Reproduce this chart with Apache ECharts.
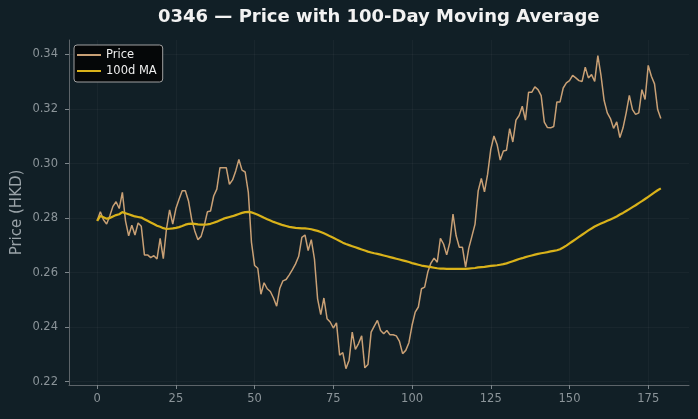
<!DOCTYPE html>
<html>
<head>
<meta charset="utf-8">
<title>0346 — Price with 100-Day Moving Average</title>
<script src="https://cdn.jsdelivr.net/npm/echarts@6.0.0/dist/echarts.min.js"></script>
<style>
    html, body { margin: 0; padding: 0; background: #111f26; }
    #main { width: 698px; height: 419px; }
</style>
</head>
<body>
<div id="main"></div>
<script>
// closing prices, one per trading day (index 0..179)
var prices = [
    0.2790, 0.2823, 0.2794, 0.2778, 0.2808, 0.2843, 0.2860, 0.2835, 0.2894, 0.2790,
    0.2735, 0.2774, 0.2738, 0.2782, 0.2770, 0.2665, 0.2665, 0.2655, 0.2662, 0.2650,
    0.2726, 0.2651, 0.2760, 0.2830, 0.2778, 0.2835, 0.2869, 0.2900, 0.2900, 0.2863,
    0.2796, 0.2753, 0.2721, 0.2733, 0.2772, 0.2823, 0.2826, 0.2881, 0.2906, 0.2985,
    0.2985, 0.2985, 0.2924, 0.2940, 0.2973, 0.3015, 0.2976, 0.2969, 0.2894, 0.2711,
    0.2626, 0.2616, 0.2521, 0.2563, 0.2541, 0.2531, 0.2507, 0.2477, 0.2543, 0.2570,
    0.2575, 0.2592, 0.2611, 0.2632, 0.2660, 0.2729, 0.2738, 0.2681, 0.2721, 0.2650,
    0.2504, 0.2446, 0.2507, 0.2431, 0.2419, 0.2397, 0.2416, 0.2297, 0.2307, 0.2248,
    0.2279, 0.2382, 0.2319, 0.2340, 0.2368, 0.2251, 0.2263, 0.2382, 0.2404, 0.2425,
    0.2388, 0.2376, 0.2388, 0.2372, 0.2372, 0.2368, 0.2348, 0.2303, 0.2315, 0.2343,
    0.2407, 0.2455, 0.2474, 0.2541, 0.2547, 0.2602, 0.2635, 0.2653, 0.2638, 0.2726,
    0.2705, 0.2665, 0.2711, 0.2815, 0.2735, 0.2693, 0.2693, 0.2620, 0.2689, 0.2733,
    0.2778, 0.2900, 0.2945, 0.2896, 0.2961, 0.3052, 0.3101, 0.3070, 0.3013, 0.3046,
    0.3049, 0.3128, 0.3079, 0.3159, 0.3176, 0.3210, 0.3159, 0.3261, 0.3261, 0.3281,
    0.3271, 0.3249, 0.3152, 0.3132, 0.3131, 0.3136, 0.3226, 0.3226, 0.3277, 0.3296,
    0.3304, 0.3323, 0.3314, 0.3304, 0.3301, 0.3353, 0.3314, 0.3326, 0.3301, 0.3396,
    0.3323, 0.3231, 0.3186, 0.3165, 0.3129, 0.3153, 0.3095, 0.3131, 0.3186, 0.3250,
    0.3198, 0.3180, 0.3186, 0.3271, 0.3235, 0.3360, 0.3320, 0.3292, 0.3198, 0.3165
];

// 100-day moving average
var ma100 = [
    0.2790, 0.2808, 0.2803, 0.2798, 0.2800, 0.2806, 0.2811, 0.2814, 0.2822, 0.2818,
    0.2814, 0.2810, 0.2806, 0.2804, 0.2802, 0.2796, 0.2790, 0.2784, 0.2778, 0.2772,
    0.2768, 0.2763, 0.2760, 0.2761, 0.2762, 0.2764, 0.2767, 0.2771, 0.2776, 0.2779,
    0.2780, 0.2779, 0.2777, 0.2776, 0.2776, 0.2777, 0.2779, 0.2783, 0.2787, 0.2792,
    0.2797, 0.2801, 0.2804, 0.2807, 0.2811, 0.2815, 0.2819, 0.2822, 0.2823, 0.2821,
    0.2817, 0.2812, 0.2807, 0.2801, 0.2796, 0.2791, 0.2786, 0.2782, 0.2778, 0.2774,
    0.2771, 0.2768, 0.2766, 0.2764, 0.2763, 0.2762, 0.2762, 0.2761, 0.2759, 0.2756,
    0.2753, 0.2749, 0.2744, 0.2739, 0.2733, 0.2728, 0.2722, 0.2716, 0.2710, 0.2705,
    0.2701, 0.2697, 0.2693, 0.2689, 0.2685, 0.2681, 0.2677, 0.2674, 0.2671, 0.2669,
    0.2666, 0.2663, 0.2660, 0.2657, 0.2654, 0.2651, 0.2648, 0.2645, 0.2642, 0.2639,
    0.2635, 0.2632, 0.2629, 0.2626, 0.2624, 0.2622, 0.2620, 0.2618, 0.2616, 0.2615,
    0.2615, 0.2614, 0.2614, 0.2614, 0.2614, 0.2614, 0.2614, 0.2614, 0.2615, 0.2616,
    0.2617, 0.2619, 0.2620, 0.2621, 0.2623, 0.2625, 0.2626, 0.2627, 0.2629, 0.2631,
    0.2634, 0.2638, 0.2642, 0.2646, 0.2650, 0.2653, 0.2657, 0.2660, 0.2663, 0.2666,
    0.2669, 0.2671, 0.2673, 0.2675, 0.2678, 0.2680, 0.2682, 0.2686, 0.2692, 0.2699,
    0.2707, 0.2715, 0.2723, 0.2731, 0.2739, 0.2747, 0.2755, 0.2762, 0.2769, 0.2775,
    0.2780, 0.2785, 0.2790, 0.2795, 0.2800, 0.2806, 0.2813, 0.2819, 0.2826, 0.2833,
    0.2840, 0.2847, 0.2855, 0.2862, 0.2870, 0.2878, 0.2886, 0.2894, 0.2902, 0.2909
];

var xTicks = [0, 25, 50, 75, 100, 125, 150, 175];
var yTicks = [0.22, 0.24, 0.26, 0.28, 0.30, 0.32, 0.34];
var seriesNames = ['Price', '100d MA'];

function toPairs(values) {
    var out = [];
    for (var i = 0; i < values.length; i++) {
        out.push([i, values[i]]);
    }
    return out;
}

var myChart = echarts.init(document.getElementById('main'), null, {renderer: 'canvas'});

var axisGrey = '#8b9499';
var priceColor = '#c9a075';
var maColor = '#d9b21a';

var option = {
    animation: false,
    backgroundColor: '#111f26',
    textStyle: {fontFamily: 'DejaVu Sans'},
    title: {
        text: '0346 — Price with 100-Day Moving Average',
        left: 158,
        top: 8,
        padding: 0,
        textStyle: {color: '#f2f2f2', fontSize: 18, fontWeight: 'bold', fontFamily: 'DejaVu Sans'}
    },
    legend: {
        // plain line samples, like matplotlib's legend handles
        data: [
            {name: seriesNames[0], icon: 'rect', itemStyle: {color: priceColor}},
            {name: seriesNames[1], icon: 'rect', itemStyle: {color: maColor}}
        ],
        orient: 'vertical',
        left: 74,
        top: 45,
        padding: [4, 6, 5, 3],
        itemGap: 4,
        itemWidth: 24,
        itemHeight: 2,
        backgroundColor: '#050708',
        borderColor: '#a0a0a0',
        borderWidth: 1,
        borderRadius: 3,
        textStyle: {color: '#eeeeee', fontSize: 11.5, fontFamily: 'DejaVu Sans'}
    },
    grid: {
        left: 69,
        right: 9,
        top: 40,
        bottom: 34,
        containLabel: false,
        outerBoundsMode: 'none'
    },
    xAxis: {
        type: 'value',
        min: -8.95,
        max: 187.95,
        minInterval: 25,
        maxInterval: 25,
        axisLine: {onZero: false, lineStyle: {color: '#5d6469', width: 1}},
        axisTick: {show: true, length: 4, customValues: xTicks, lineStyle: {color: '#7d868b'}},
        axisLabel: {
            customValues: xTicks,
            margin: 8,
            color: axisGrey,
            fontSize: 11.5,
            fontFamily: 'DejaVu Sans'
        },
        splitLine: {show: true, lineStyle: {color: 'rgba(255,255,255,0.035)', width: 1}}
    },
    yAxis: {
        type: 'value',
        min: 0.2188,
        max: 0.3453,
        minInterval: 0.02,
        maxInterval: 0.02,
        name: 'Price (HKD)',
        nameLocation: 'middle',
        nameGap: 44,
        nameMoveOverlap: false,
        nameTextStyle: {color: '#9aa3a8', fontSize: 15, fontFamily: 'DejaVu Sans'},
        axisLine: {show: true, onZero: false, lineStyle: {color: '#5d6469', width: 1}},
        axisTick: {show: true, length: 4, customValues: yTicks, lineStyle: {color: '#7d868b'}},
        axisLabel: {
            customValues: yTicks,
            margin: 11,
            color: axisGrey,
            fontSize: 11.5,
            fontFamily: 'DejaVu Sans',
            formatter: function (v) { return v.toFixed(2); }
        },
        splitLine: {show: true, lineStyle: {color: 'rgba(255,255,255,0.035)', width: 1}}
    },
    series: [
        {
            name: seriesNames[0],
            type: 'line',
            data: toPairs(prices),
            symbol: 'none',
            lineStyle: {color: priceColor, width: 1.5},
            itemStyle: {color: priceColor},
            z: 2
        },
        {
            name: seriesNames[1],
            type: 'line',
            data: toPairs(ma100),
            symbol: 'none',
            lineStyle: {color: maColor, width: 2.2},
            itemStyle: {color: maColor},
            z: 3
        }
    ]
};

myChart.setOption(option);
</script>
</body>
</html>
